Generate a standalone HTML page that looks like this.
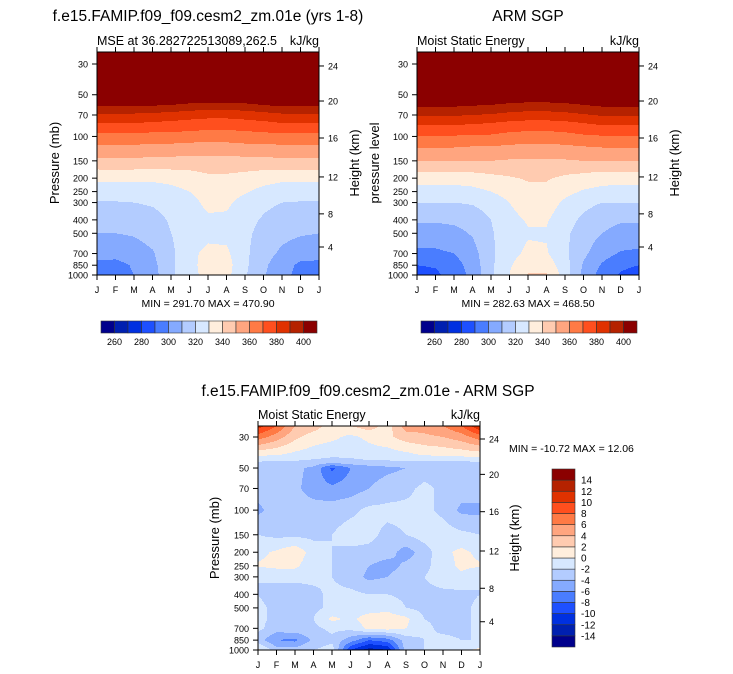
<!DOCTYPE html>
<html><head><meta charset="utf-8">
<style>
html,body{margin:0;padding:0;background:#fff;}
svg{display:block;font-family:"Liberation Sans",Arial,sans-serif;}
</style></head>
<body>
<svg id="chart" width="733" height="674" viewBox="0 0 733 674" xmlns="http://www.w3.org/2000/svg">
<text x="208" y="21" font-size="15.5" text-anchor="middle">f.e15.FAMIP.f09_f09.cesm2_zm.01e (yrs 1-8)</text>
<text x="97" y="45" font-size="12.5">MSE at 36.282722513089,262.5</text>
<text x="319" y="45" font-size="12.5" text-anchor="end">kJ/kg</text>
<text x="528" y="21" font-size="15.5" text-anchor="middle">ARM SGP</text>
<text x="417" y="45" font-size="12.5">Moist Static Energy</text>
<text x="639" y="45" font-size="12.5" text-anchor="end">kJ/kg</text>
<text x="368" y="396" font-size="15.5" text-anchor="middle">f.e15.FAMIP.f09_f09.cesm2_zm.01e - ARM SGP</text>
<text x="258" y="419" font-size="12.5">Moist Static Energy</text>
<text x="480" y="419" font-size="12.5" text-anchor="end">kJ/kg</text>
<text x="208" y="307" font-size="10.5" text-anchor="middle">MIN = 291.70 MAX = 470.90</text>
<text x="528" y="307" font-size="10.5" text-anchor="middle">MIN = 282.63 MAX = 468.50</text>
<text x="509" y="452" font-size="10.5">MIN = -10.72 MAX =  12.06</text>
<text transform="translate(59,163) rotate(-90)" font-size="13" text-anchor="middle">Pressure (mb)</text>
<text transform="translate(359,163) rotate(-90)" font-size="13" text-anchor="middle">Height (km)</text>
<text transform="translate(379,163) rotate(-90)" font-size="13" text-anchor="middle">pressure level</text>
<text transform="translate(679,163) rotate(-90)" font-size="13" text-anchor="middle">Height (km)</text>
<text transform="translate(219,538) rotate(-90)" font-size="13" text-anchor="middle">Pressure (mb)</text>
<text transform="translate(519,538) rotate(-90)" font-size="13" text-anchor="middle">Height (km)</text>
</svg>
<script>
const monthLabels = ["J","F","M","A","M","J","J","A","S","O","N","D","J"];
const pressureTicks = [30,50,70,100,150,200,250,300,400,500,700,850,1000];
const heightTickLabels = [24,20,16,12,8,4];
const heightTickPressures = [31,55.5,102.6,196,362,628];
const mseLevels = [260,270,280,290,300,310,320,330,340,350,360,370,380,390,400];
const mseLabelValues = [260,280,300,320,340,360,380,400];
const diffLevels = [-14,-12,-10,-8,-6,-4,-2,0,2,4,6,8,10,12,14];
const diffLabelValues = [14,12,10,8,6,4,2,0,-2,-4,-6,-8,-10,-12,-14];
const palette = ["#00008c","#0020b0","#0030e0","#1e50ff","#4a7dff","#85aaff","#b3ccff","#d7e8ff","#ffeedd","#ffcbb0","#ffa57f","#ff7a45","#ff4f1e","#e03200","#b52200","#8b0000"];

const modelLevels = [1000,850,700,500,400,300,250,200,150,115,95,80,70,60,50,30,25];
const modelMse = [
 [295,296,300,306,318,327,333,333,321,311,303,297,295],
 [297,297,301,307,318,327,334,334,322,312,304,298,297],
 [304,303,305,309,318,327,333,332,322,314,308,304,304],
 [310,310,311,314,320,324,327,327,322,317,313,311,310],
 [314,314,315,317,321,324,328,328,323,319,316,314,314],
 [319.5,319.5,320,321,323,326,333,332,326,322,320,319.5,319.5],
 [324,324,324,325,327,330,335,335,331,327,325,324,324],
 [332,332,332,332,333,335,338,338,336,334,332,332,332],
 [348,348,348,347,347,346,346,346,347,347,348,348,348],
 [360,360,360,359,359,358,358,358,359,359,360,360,360],
 [370,370,370,369,369,368,367,367,368,369,370,370,370],
 [380,380,380,379,378,377,376,376,377,378,380,380,380],
 [388,388,388,387,386,384,383,383,384,386,388,388,388],
 [401,401,401,400,399,397,396,396,397,399,401,401,401],
 [415,415,415,414,413,411,410,410,411,413,415,415,415],
 [465,465,465,465,464,463,462,462,463,464,465,465,465],
 [471,471,471,471,470,469,468,468,469,470,471,471,471]
];
const obsLevels = [1000,850,700,500,400,300,250,200,150,115,95,80,70,60,50,30,25];
const obsMse = [
 [286,288,294,303,318,330,341,341,325,307,296,289,286],
 [290,291,296,304,318,329,336,336,324,309,299,292,290],
 [298,298,300,306,318,327,332,331,322,312,304,299,298],
 [306,306,307,311,319,325,329,329,322,315,310,307,306],
 [311,311,312,314,320,327,331,331,324,318,313,311,311],
 [320,320,320,321,324,330,335,335,328,323,320,320,320],
 [326,326,326,327,330,334,337,337,333,329,327,326,326],
 [334,334,334,335,337,339,341,341,338,336,334,334,334],
 [350,350,350,350,350,349,349,349,349,350,350,350,350],
 [362,362,362,361,361,360,359,359,360,361,362,362,362],
 [372,372,372,371,371,369,368,368,369,371,372,372,372],
 [382,382,382,381,380,378,377,377,378,380,382,382,382],
 [391,391,391,390,389,387,386,386,387,389,391,391,391],
 [401,401,401,400,399,397,396,396,397,399,401,401,401],
 [414,414,414,413,412,410,409,409,410,412,414,414,414],
 [462,462,462,462,461,460,459,459,460,461,462,462,462],
 [468,468,468,468,467,466,465,465,466,467,468,468,468]
];
const diffPLevels = [1000,850,700,600,500,400,300,250,200,150,100,70,50,45,40,30,25];
const diffMse = [
 [0.5,-3,-3,-2,-1,-10,-13,-12,-3,-2,-0.5,-0.5,0.5],
 [-3,-6,-6.5,-3.5,-2.5,-5,-8,-7,-3,-2,-1.5,-2,-2],
 [-1.5,-3,-2.5,-2.5,-1.5,-1.5,0.5,0.8,0,-1.5,-2.5,-2.5,-1.5],
 [-1.5,-2.5,-2.5,-2,0.5,-0.5,1,1,0.5,-2,-2.5,-2.5,-1.5],
 [-1.5,-2.5,-2.5,-2.5,-1.5,-1,-1,-0.5,-2,-2.5,-2.5,-2.5,-1.5],
 [-2,-3,-3,-2.5,-1.5,-1.5,-2,-2,-2.5,-2.5,-2.5,-2.5,-2],
 [-2,-1.5,-1.5,-1.5,-2,-3,-4.5,-4,-2.5,-2,-1,-0.5,-2],
 [0.2,0.5,0.5,-1.5,-2,-2.5,-4,-5,-3.5,-2.5,-1,0.5,0.2],
 [-0.5,0.3,1.5,-1,-2,-2.5,-2.5,-3,-5,-3,-0.5,0.5,-0.5],
 [-2,-2.5,-2.5,-2.5,-2,-1,-1.5,-2.5,-2,-1,-1,-1.5,-2],
 [-4.5,-3,-3,-3,-3,-2.5,-1.5,-1.5,-1.5,-1.5,-2.5,-4.5,-4.5],
 [-3,-3,-3.5,-5,-5.5,-5,-4,-3,-2.5,-1.5,-2.5,-3,-3],
 [-3,-3,-3.5,-4.5,-8.5,-6,-5,-4.5,-4,-3,-3,-3,-3],
 [-2,-2.2,-2.2,-2.5,-2.8,-2.5,-2.3,-2.2,-2.2,-2.2,-2.2,-2.1,-2],
 [0.5,0.2,-0.5,-1,-1.5,-1.5,-1,-1,-0.5,0.3,0.5,0.8,1],
 [7,5,2.5,1,0.5,-0.5,0.5,1.5,3,3.5,4,5,7],
 [11,8,4,3,1,2,3,1,5,5,6,8,12]
];

const NS = "http://www.w3.org/2000/svg";
const svg = document.getElementById("chart");
function mk(tag, attrs, parent){
  const el = document.createElementNS(NS, tag);
  for (const k in attrs) el.setAttribute(k, attrs[k]);
  (parent||svg).appendChild(el);
  return el;
}
function colorIdx(v, bounds){ let i=0; while(i<bounds.length && v>=bounds[i]) i++; return i; }
function interp(levels, grid, p, m){
  let i=0;
  if (p>=levels[0]) { i=0; p=levels[0]; }
  else if (p<=levels[levels.length-1]) { i=levels.length-2; p=levels[levels.length-1]; }
  else { while(!(levels[i]>=p && p>=levels[i+1])) i++; }
  const t = Math.log(levels[i]/p)/Math.log(levels[i]/levels[i+1]);
  let j = Math.floor(m); if (j>=12) j=11; if (j<0) j=0;
  const f = m-j;
  const a = grid[i][j]*(1-f)+grid[i][j+1]*f;
  const b = grid[i+1][j]*(1-f)+grid[i+1][j+1]*f;
  return a*(1-t)+b*t;
}
function panel(cfg){
  const {x0,x1,top,bot,y30,y1000,levels,grid,bounds,name} = cfg;
  const k = (y1000-y30)/Math.log(1000/30);
  const yOf = p => y30 + k*Math.log(p/30);
  const xOf = m => x0 + (x1-x0)*m/12;
  const g = mk("g", {});
  
  
  for (let y=top; y<bot; y++){
    const p = 30*Math.exp((y+0.5-y30)/k);
    let runStart=x0, runC=-1;
    for (let x=x0; x<=x1; x++){
      let c=-2;
      if (x<x1){ const m=(x+0.5-x0)/(x1-x0)*12; c=colorIdx(interp(levels,grid,p,m),bounds); }
      if (c!==runC){
        if (runC>=0){
          const r = mk("rect",{x:runStart,y:y,width:x-runStart,height:1.05,fill:palette[runC]},g);
          
          
        }
        runStart=x; runC=c;
      }
    }
  }
  const frame = mk("rect",{x:x0,y:top,width:x1-x0,height:bot-top,fill:"none",stroke:"#000","stroke-width":1});
  
  
  monthLabels.forEach((lab,i)=>{
    const x = xOf(i);
    const t1 = mk("line",{x1:x,x2:x,y1:bot,y2:bot+5,stroke:"#000"});
    
    
    const t2 = mk("line",{x1:x,x2:x,y1:top,y2:top-5,stroke:"#000"});
    
    
    const tx = mk("text",{x:x,y:bot+18,"font-size":9,"text-anchor":"middle"});
    tx.textContent = lab;
    
    
  });
  pressureTicks.forEach(p=>{
    const y = yOf(p);
    const t = mk("line",{x1:x0,x2:x0-5,y1:y,y2:y,stroke:"#000"});
    
    
    const tx = mk("text",{x:x0-9,y:y+3.5,"font-size":9,"text-anchor":"end"});
    tx.textContent = p;
    
    
  });
  heightTickPressures.forEach((p,i)=>{
    const y = yOf(p);
    const t = mk("line",{x1:x1,x2:x1+5,y1:y,y2:y,stroke:"#000"});
    
    
    const tx = mk("text",{x:x1+9,y:y+3.5,"font-size":9});
    tx.textContent = heightTickLabels[i];
    
    
  });
}
panel({x0:97,x1:319,top:52,bot:275,y30:64,y1000:275,levels:modelLevels,grid:modelMse,bounds:mseLevels,name:"model"});
panel({x0:417,x1:639,top:52,bot:275,y30:64,y1000:275,levels:obsLevels,grid:obsMse,bounds:mseLevels,name:"obs"});
panel({x0:258,x1:480,top:426,bot:650,y30:437,y1000:650,levels:diffPLevels,grid:diffMse,bounds:diffLevels,name:"diff"});

function hbar(x0,x1,y,h,name){
  const w=(x1-x0)/palette.length;
  palette.forEach((c,i)=>{
    const r = mk("rect",{x:x0+i*w,y:y,width:w,height:h,fill:c,stroke:"#333","stroke-width":0.6});
    
    
  });
  mseLabelValues.forEach(v=>{
    const i = mseLevels.indexOf(v)+1;
    const tx = mk("text",{x:x0+i*w,y:y+h+12,"font-size":9,"text-anchor":"middle"});
    tx.textContent = v;
    
    
  });
}
hbar(101,317,321,12,"model");
hbar(421,637,321,12,"obs");
(function(){
  const x0=552,w=23,y0=469,y1=647,h=(y1-y0)/palette.length;
  palette.forEach((c,i)=>{
    const r = mk("rect",{x:x0,y:y1-(i+1)*h,width:w,height:h,fill:c,stroke:"#333","stroke-width":0.6});
    
    
  });
  diffLabelValues.forEach(v=>{
    const i = diffLevels.indexOf(v)+1;
    const tx = mk("text",{x:x0+w+6,y:y1-i*h+3.5,"font-size":10});
    tx.textContent = v;
    
    
  });
})();
</script>
</body></html>
